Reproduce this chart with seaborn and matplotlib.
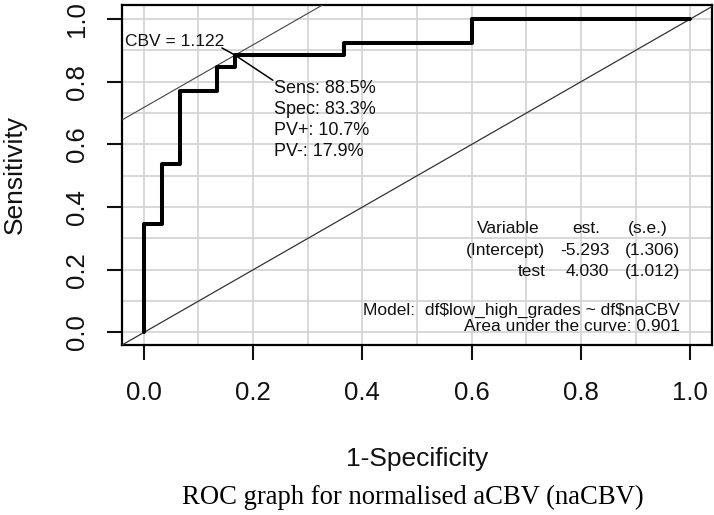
import numpy as np
import pandas as pd
import matplotlib
matplotlib.use("Agg")
import matplotlib.pyplot as plt
import seaborn as sns

# ROC points (1-specificity, sensitivity), 30 negatives / 26 positives
fpr = [0.0, 0.0, 0.033, 0.033, 0.067, 0.067, 0.133, 0.133, 0.167, 0.167, 0.367, 0.367, 0.600, 0.600, 1.0]
tpr = [0.0, 0.346, 0.346, 0.538, 0.538, 0.769, 0.769, 0.846, 0.846, 0.885, 0.885, 0.923, 0.923, 1.0, 1.0]

cut_x, cut_y = 0.167, 0.885
cut_label = "CBV = 1.122"
cut_stats = ["Sens: 88.5%", "Spec: 83.3%", "PV+: 10.7%", "PV-: 17.9%"]

table_vars = ["Variable", "(Intercept)", "test"]
table_est = ["est.", "-5.293", "4.030"]
table_se = ["(s.e.)", "(1.306)", "(1.012)"]
model_text = r"Model:  df\$low_high_grades ~ df\$naCBV"
auc_text = "Area under the curve: 0.901"

tick_vals = [0.0, 0.2, 0.4, 0.6, 0.8, 1.0]
grid_vals = np.round(np.arange(0, 1.01, 0.1), 1)

sns.set_style("white")
plt.rcParams["font.family"] = ["Liberation Sans", "DejaVu Sans"]
ink = "#111111"

fig = plt.figure(figsize=(7.14, 5.15), dpi=100)
ax = fig.add_axes([122 / 714, 170 / 515, 590 / 714, 340 / 515])

df = pd.DataFrame({"fpr": fpr, "tpr": tpr})
sns.lineplot(data=df, x="fpr", y="tpr", sort=False, estimator=None,
             color="black", linewidth=2.9, ax=ax, zorder=4)

# reference diagonal and tangent through the cut-off
ax.axline((0, 0), slope=1, color="#333333", linewidth=0.9, zorder=3)
ax.axline((cut_x, cut_y), slope=1, color="#444444", linewidth=0.8, zorder=3)

ax.set_xlim(-0.04, 1.04)
ax.set_ylim(-0.04, 1.045)
for g in grid_vals:
    ax.axvline(g, color="#d2d2d2", linewidth=1.2, zorder=1)
    ax.axhline(g, color="#d2d2d2", linewidth=1.2, zorder=1)

ax.set_xticks(tick_vals)
ax.set_yticks(tick_vals)
ax.set_xticklabels([f"{v:.1f}" for v in tick_vals])
ax.set_yticklabels([f"{v:.1f}" for v in tick_vals], rotation=90, va="center")
ax.tick_params(axis="both", length=11, width=1.5, colors=ink, labelsize=18.5)
ax.tick_params(axis="x", pad=15, bottom=True)
ax.tick_params(axis="y", pad=13, left=True)
for s in ax.spines.values():
    s.set_color("black")
    s.set_linewidth(1.6)

ax.set_xlabel("1-Specificity", fontsize=19, color=ink, labelpad=30)
ax.set_ylabel("Sensitivity", fontsize=19, color=ink, labelpad=27)

# cut-off annotation
ax.text(-0.035, 0.927, cut_label, fontsize=12.5, color=ink, ha="left", va="center", zorder=5)
ax.plot([0.143, cut_x, 0.236], [0.908, cut_y, 0.805], color="black", linewidth=1.1, zorder=5)
for i, s in enumerate(cut_stats):
    ax.text(0.238, 0.78 - i * 0.068, s, fontsize=13, color=ink, ha="left", va="center", zorder=5)

# coefficient table
rows_y = [0.332, 0.262, 0.195]
for i in range(3):
    ax.text(0.725 if i == 0 else 0.735, rows_y[i], table_vars[i], fontsize=12.5, color=ink, ha="right", va="center")
    ax.text(0.835 if i == 0 else 0.852, rows_y[i], table_est[i], fontsize=12.5, color=ink, ha="right", va="center")
    ax.text(0.958 if i == 0 else 0.982, rows_y[i], table_se[i], fontsize=12.5, color=ink, ha="right", va="center")
ax.text(0.982, 0.07, model_text, fontsize=12.5, color=ink, ha="right", va="center")
ax.text(0.982, 0.02, auc_text, fontsize=12.5, color=ink, ha="right", va="center")

fig.text(413 / 714, 1 - 497 / 515, "ROC graph for normalised aCBV (naCBV)",
         fontsize=19.2, family=["Liberation Serif", "DejaVu Serif"], color="black",
         ha="center", va="center")

fig.savefig("out.png", dpi=100, facecolor="white")
